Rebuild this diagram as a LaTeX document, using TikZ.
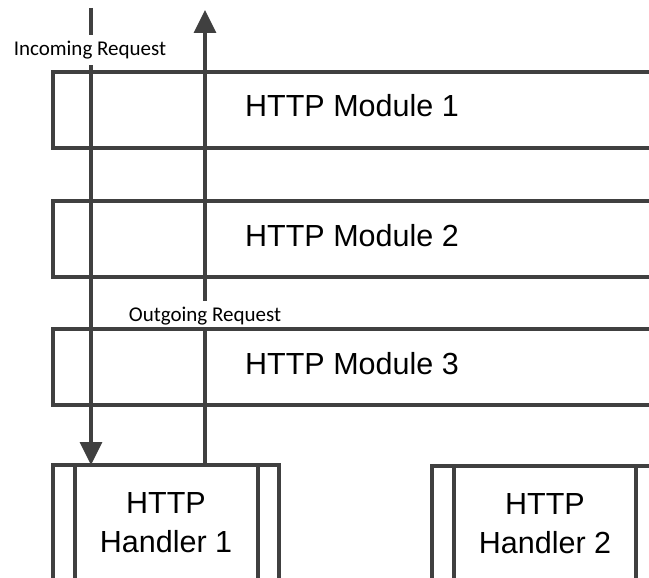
\documentclass[tikz,border=0pt]{standalone}
\usepackage{fontspec}
\setmainfont{Liberation Sans}
\newfontfamily\calibrifont{Carlito}
\usetikzlibrary{arrows.meta}
\definecolor{linegray}{HTML}{404040}
\begin{document}
\begin{tikzpicture}[x=1pt,y=-1pt,
  boxline/.style={draw=linegray, line width=3.5pt, outer sep=0pt, inner sep=0pt},
  modbox/.style={boxline, anchor=north west, minimum width=700pt, minimum height=76pt},
  hbox/.style={boxline, anchor=north west, minimum width=226pt, minimum height=200pt},
  modtext/.style={font=\fontsize{30.5}{36}\selectfont, anchor=base west, inner sep=0pt},
  htext/.style={font=\fontsize{30.5}{39}\selectfont, align=center, inner sep=0pt},
  lbl/.style={font=\calibrifont\fontsize{21}{24}\selectfont, inner sep=0pt, minimum height=30pt},
  conn/.style={draw=linegray, line width=3.5pt},
  tip/.style={-{Triangle[length=23pt,width=22pt]}}
]
\useasboundingbox (0,0) rectangle (649,578);
\clip (0,0) rectangle (649,578);

% modules
\node[modbox] (m1) at (53,72) {};
\node[modbox] (m2) at (53,201) {};
\node[modbox] (m3) at (53,329) {};
\node[modtext] (t1) at (245,117) {HTTP Module 1};
\node[modtext] (t2) at (245,246) {HTTP Module 2};
\node[modtext] (t3) at (245,374) {HTTP Module 3};

% handlers
\node[hbox] (h1) at (53,465) {};
\node[hbox] (h2) at (432,466) {};
\draw[conn] ([xshift=22pt]h1.north west) -- ([xshift=22pt]h1.south west);
\draw[conn] ([xshift=-21pt]h1.north east) -- ([xshift=-21pt]h1.south east);
\draw[conn] ([xshift=22pt]h2.north west) -- ([xshift=22pt]h2.south west);
\draw[conn] ([xshift=-22pt]h2.north east) -- ([xshift=-22pt]h2.south east);
\node[htext] (h1t) at (166,522.5) {HTTP\\Handler 1};
\node[htext] (h2t) at (545,523.5) {HTTP\\Handler 2};

% labels
\node[lbl] (inl) at (90,50) {Incoming Request};
\node[lbl] (outl) at (205,316) {Outgoing Request};

% incoming
\coordinate (inTop) at (91,8);
\draw[conn] (inTop) -- (inl.north -| inTop);
\draw[conn,tip] (inl.south -| inTop) -- (h1.north -| inTop);

% outgoing
\coordinate (outTop) at (205,10);
\draw[conn] (h1.north -| outTop) -- (m3.north -| outTop);
\draw[conn,tip] (outl.north -| outTop) -- (outTop);
\end{tikzpicture}
\end{document}
